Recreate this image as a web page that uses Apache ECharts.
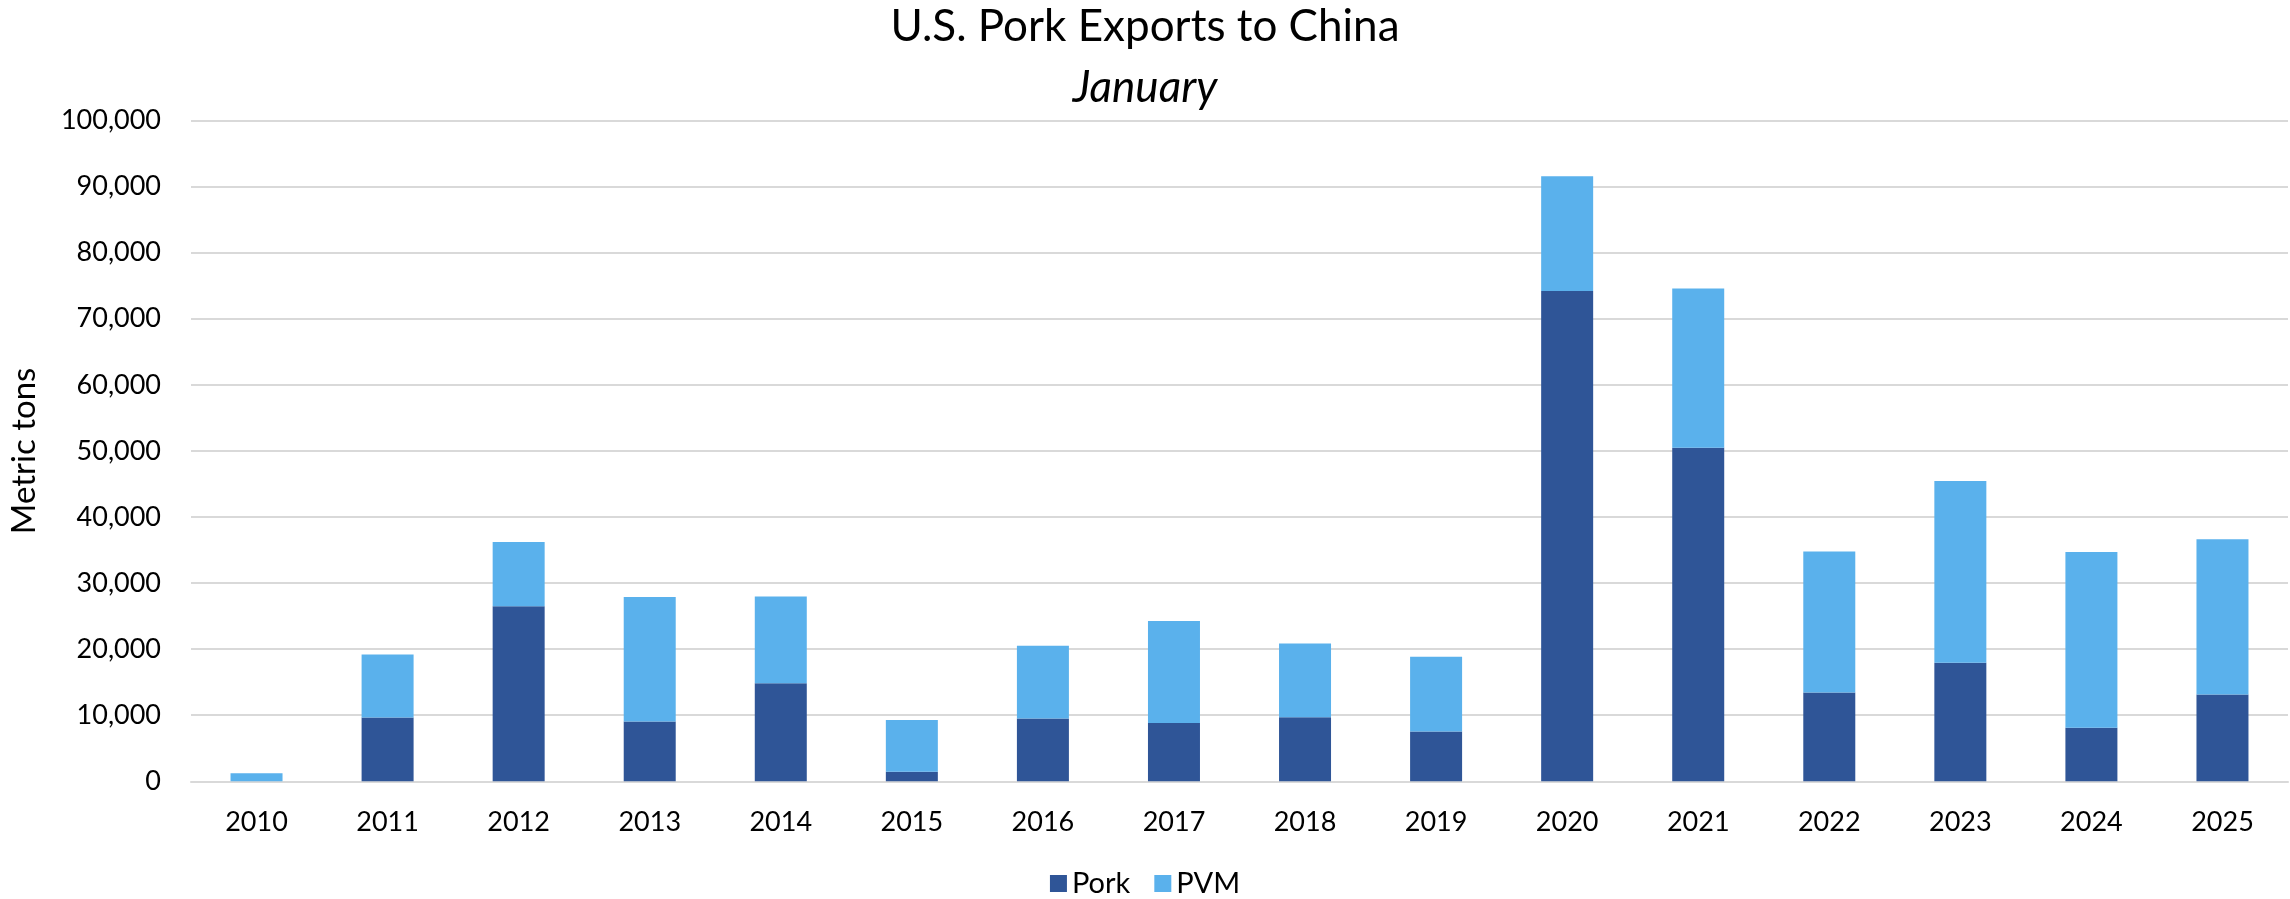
<!DOCTYPE html>
<html>
<head>
<meta charset="utf-8">
<script src="https://cdn.jsdelivr.net/npm/echarts@6/dist/echarts.min.js"></script>
<style>
html,body{margin:0;padding:0;background:#fff;}
#chart{width:2290px;height:899px;}
</style>
</head>
<body>
<div id="chart"></div>
<script>
const years = ['2010','2011','2012','2013','2014','2015','2016','2017','2018','2019','2020','2021','2022','2023','2024','2025'];
const pork = [0, 9640, 26500, 9040, 14850, 1460, 9490, 8840, 9700, 7530, 74190, 50460, 13450, 17930, 8110, 13140];
const pvm = [1220, 9560, 9730, 18850, 13130, 7830, 11010, 15400, 11160, 11310, 17390, 24110, 21330, 27510, 26590, 23490];

const FONT = 'Lato';
const chart = echarts.init(document.getElementById('chart'));
chart.setOption({
  backgroundColor: '#ffffff',
  animation: false,
  title: {
    text: 'U.S. Pork Exports to China',
    subtext: 'January',
    left: 'center',
    top: 0,
    itemGap: 17,
    textStyle: {fontFamily: FONT, fontSize: 44, fontWeight: 'normal', color: '#000'},
    subtextStyle: {fontFamily: FONT, fontSize: 44, fontStyle: 'italic', color: '#000'}
  },
  legend: {
    top: 864,
    left: 'center',
    itemWidth: 17,
    itemHeight: 17,
    itemGap: 24,
    icon: 'rect',
    textStyle: {fontFamily: FONT, fontSize: 29, color: '#000'},
    data: ['Pork', 'PVM']
  },
  grid: {left: 189, right: 2, top: 120.5, bottom: 117.7, containLabel: false},
  xAxis: {
    type: 'category',
    data: years,
    axisLine: {lineStyle: {color: '#D9D9D9', width: 2}},
    axisTick: {show: false},
    axisLabel: {fontFamily: FONT, fontSize: 27, color: '#000', margin: 27}
  },
  yAxis: {
    type: 'value',
    min: 0, max: 100000, interval: 10000,
    name: 'Metric tons',
    nameLocation: 'middle',
    nameGap: 150,
    nameTextStyle: {fontFamily: FONT, fontSize: 33, color: '#000'},
    axisLine: {show: false},
    axisTick: {show: false},
    splitLine: {lineStyle: {color: '#D9D9D9', width: 2}},
    axisLabel: {
      fontFamily: FONT, fontSize: 27, color: '#000', margin: 30,
      formatter: v => v.toLocaleString('en-US')
    }
  },
  series: [
    {name: 'Pork', type: 'bar', stack: 'total', data: pork, barWidth: 52,
     itemStyle: {color: '#2F5597'}},
    {name: 'PVM', type: 'bar', stack: 'total', data: pvm, barWidth: 52,
     itemStyle: {color: '#5AB1EC'}}
  ]
});
</script>
</body>
</html>
